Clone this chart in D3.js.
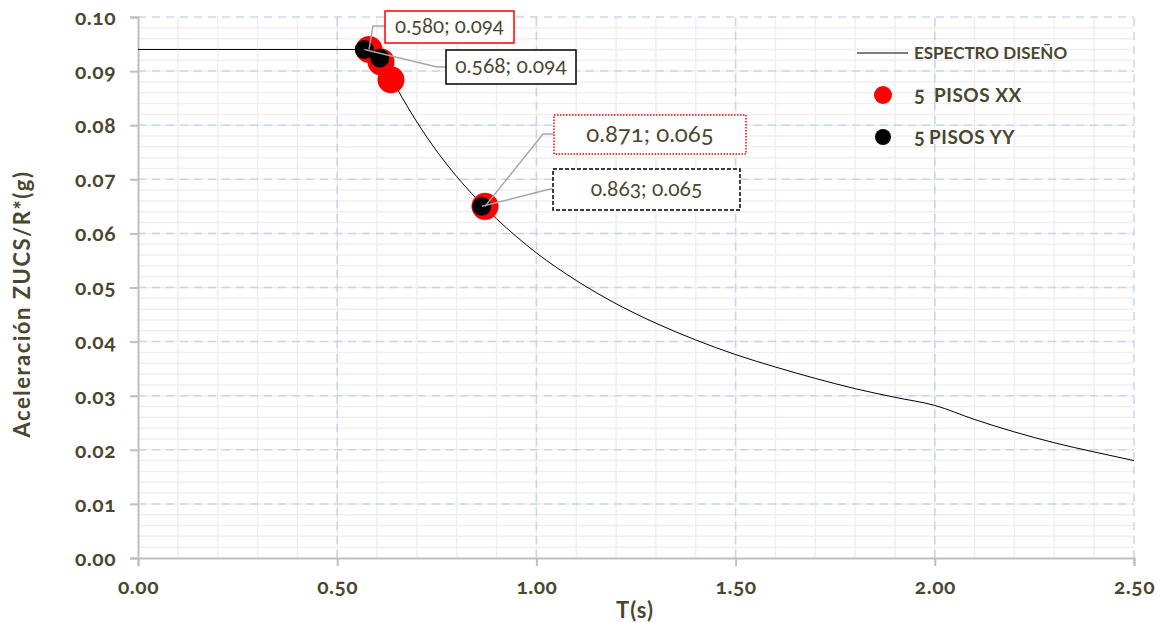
<!DOCTYPE html>
<html>
<head>
<meta charset="utf-8">
<script src="https://cdn.jsdelivr.net/npm/d3@7"></script>
<style>
    body { margin: 0; background: #fff; }
    text { font-family: Lato, 'Open Sans', sans-serif; font-feature-settings: 'onum' 1; }
</style>
</head>
<body>
<svg id="chart" width="1164" height="623"></svg>
<script>
// espectro de diseño (T, Sa)
const specT = [0, 0.1, 0.2, 0.3, 0.4, 0.5, 0.55, 0.6, 0.65, 0.7, 0.75, 0.8, 0.85, 0.9, 0.95, 1.0, 1.1, 1.2, 1.3, 1.4, 1.5, 1.6, 1.7, 1.8, 1.9, 2.0, 2.1, 2.2, 2.3, 2.4, 2.5]
const specSa = [0.094, 0.094, 0.094, 0.094, 0.094, 0.094, 0.094, 0.094, 0.0868, 0.0806, 0.0752, 0.0705, 0.0664, 0.0627, 0.0594, 0.0564, 0.0513, 0.047, 0.0434, 0.0403, 0.0376, 0.0353, 0.0332, 0.0313, 0.0297, 0.0282, 0.0256, 0.0233, 0.0213, 0.0196, 0.018]

// periodos de la estructura
const xxT = [0.58, 0.61, 0.635, 0.871]
const xxSa = [0.094, 0.0917, 0.0884, 0.065]
const yyT = [0.568, 0.607, 0.863]
const yySa = [0.094, 0.0924, 0.065]

const xTicks = [0, 0.5, 1.0, 1.5, 2.0, 2.5]
const yTicks = [0, 0.01, 0.02, 0.03, 0.04, 0.05, 0.06, 0.07, 0.08, 0.09, 0.10]

const seriesNames = ['ESPECTRO DISEÑO', 'PISOS XX', 'PISOS YY']
const pisos = 5

const ink = '#4b4630'
const svg = d3.select('#chart')

const x = d3.scaleLinear().domain([0, 2.5]).range([138, 1134])
const y = d3.scaleLinear().domain([0, 0.1]).range([558, 17])

const grid = svg.append('g')

// rejilla secundaria
grid.selectAll('.vminor')
    .data(d3.range(1, 25).map((i) => i / 10))
    .enter()
    .append('line')
    .attr('x1', (d) => x(d))
    .attr('x2', (d) => x(d))
    .attr('y1', y(0))
    .attr('y2', y(0.1))
    .attr('stroke', '#efefef')
    .attr('stroke-width', 1.5)

grid.selectAll('.hminor')
    .data(d3.range(1, 50).map((i) => i / 500))
    .enter()
    .append('line')
    .attr('x1', x(0))
    .attr('x2', x(2.5))
    .attr('y1', (d) => y(d))
    .attr('y2', (d) => y(d))
    .attr('stroke', '#efefef')
    .attr('stroke-width', 1.5)

// rejilla principal (discontinua)
grid.selectAll('.vmajor')
    .data(xTicks.slice(1))
    .enter()
    .append('line')
    .attr('x1', (d) => x(d))
    .attr('x2', (d) => x(d))
    .attr('y1', y(0))
    .attr('y2', y(0.1))
    .attr('stroke', '#c5d7ee')
    .attr('stroke-width', 1.5)
    .attr('stroke-dasharray', '8,6')

grid.selectAll('.hmajor')
    .data(yTicks.slice(1))
    .enter()
    .append('line')
    .attr('x1', x(0))
    .attr('x2', x(2.5))
    .attr('y1', (d) => y(d))
    .attr('y2', (d) => y(d))
    .attr('stroke', '#c5d7ee')
    .attr('stroke-width', 1.5)
    .attr('stroke-dasharray', '8,6')

// ejes
const xAxis = svg.append('g')
    .attr('transform', `translate(0,${y(0)})`)
    .call(d3.axisBottom(x).tickValues(xTicks).tickFormat(d3.format('.2f')).tickSize(8).tickPadding(13))
const yAxis = svg.append('g')
    .attr('transform', `translate(${x(0)},0)`)
    .call(d3.axisLeft(y).tickValues(yTicks).tickFormat(d3.format('.2f')).tickSize(8).tickPadding(14))

;[xAxis, yAxis].forEach((a) => {
    a.select('.domain').attr('stroke', '#bfbfbf').attr('stroke-width', 2)
    a.selectAll('.tick line').attr('stroke', '#bfbfbf').attr('stroke-width', 2)
    a.selectAll('.tick text')
        .attr('fill', ink)
        .attr('font-size', '21px')
        .attr('font-weight', 'bold')
        .attr('letter-spacing', '0.5px')
        .style('font-family', "Lato, 'Open Sans', sans-serif")
})
yAxis.selectAll('.tick text').attr('dy', '0.35em')

// títulos de ejes
svg.append('text')
    .text('T(s)')
    .attr('x', 635)
    .attr('y', 618)
    .attr('text-anchor', 'middle')
    .attr('font-size', '22px')
    .attr('font-weight', 'bold')
    .attr('letter-spacing', '1px')
    .attr('fill', ink)

svg.append('text')
    .text('Aceleración ZUCS/R*(g)')
    .attr('transform', 'translate(30,304) rotate(-90)')
    .attr('text-anchor', 'middle')
    .attr('font-size', '22px')
    .attr('font-weight', 'bold')
    .attr('letter-spacing', '1.5px')
    .attr('fill', ink)

// espectro
const specData = specT.map((t, i) => [t, specSa[i]])
const line = d3.line().x((d) => x(d[0])).y((d) => y(d[1])).curve(d3.curveMonotoneX)
svg.append('path')
    .datum(specData)
    .attr('d', line)
    .attr('fill', 'none')
    .attr('stroke', '#000')
    .attr('stroke-width', 1)

// puntos
const xxData = xxT.map((t, i) => [t, xxSa[i]])
const yyData = yyT.map((t, i) => [t, yySa[i]])

svg.selectAll('.xx')
    .data(xxData)
    .enter()
    .append('circle')
    .attr('cx', (d) => x(d[0]))
    .attr('cy', (d) => y(d[1]))
    .attr('r', 13.5)
    .attr('fill', '#ff0000')

svg.selectAll('.yy')
    .data(yyData)
    .enter()
    .append('circle')
    .attr('cx', (d) => x(d[0]))
    .attr('cy', (d) => y(d[1]))
    .attr('r', 9.5)
    .attr('fill', '#000')

// etiquetas de datos
const labels = [
    { p: xxData[0], box: [385, 11, 129, 32], elbow: [373, 26], color: '#ff0000', dash: null, size: 20.5 },
    { p: yyData[0], box: [446, 50, 130, 34], elbow: [437, 67], color: '#000', dash: null, size: 21 },
    { p: xxData[3], box: [554, 115, 192, 39], elbow: [543, 134], color: '#ff0000', dash: '1.5,1.5', size: 24 },
    { p: yyData[2], box: [553, 169, 187, 41], elbow: [550, 189], color: '#000', dash: '4,2', size: 21 }
]

labels.forEach((l) => {
    const px = x(l.p[0])
    const py = y(l.p[1])
    svg.append('polyline')
        .attr('points', `${px},${py} ${l.elbow[0]},${l.elbow[1]} ${l.box[0]},${l.elbow[1]}`)
        .attr('fill', 'none')
        .attr('stroke', '#a6a6a6')
        .attr('stroke-width', 1.5)
    svg.append('rect')
        .attr('x', l.box[0])
        .attr('y', l.box[1])
        .attr('width', l.box[2])
        .attr('height', l.box[3])
        .attr('fill', '#fff')
        .attr('stroke', l.color)
        .attr('stroke-width', 1.5)
        .attr('stroke-dasharray', l.dash)
    svg.append('text')
        .text(`${d3.format('.3f')(l.p[0])}; ${d3.format('.3f')(l.p[1])}`)
        .attr('x', l.box[0] + l.box[2] / 2)
        .attr('y', l.box[1] + l.box[3] / 2)
        .attr('dy', '0.3em')
        .attr('text-anchor', 'middle')
        .attr('font-size', l.size + 'px')
        .attr('fill', ink)
})

// leyenda
const legend = svg.append('g')
legend.append('line')
    .attr('x1', 857).attr('x2', 908).attr('y1', 53).attr('y2', 53)
    .attr('stroke', '#555').attr('stroke-width', 1.5)
legend.append('circle').attr('cx', 883).attr('cy', 95).attr('r', 9).attr('fill', '#ff0000')
legend.append('circle').attr('cx', 883).attr('cy', 137).attr('r', 8).attr('fill', '#000')

legend.append('text')
    .text(seriesNames[0])
    .attr('x', 914)
    .attr('y', 59)
    .attr('font-size', '17px')
    .attr('font-weight', 'bold')
    .attr('fill', ink)

const items = [{ name: seriesNames[1], y: 102, gap: 934 }, { name: seriesNames[2], y: 144, gap: 929 }]
items.forEach((it) => {
    legend.append('text')
        .text(pisos)
        .attr('x', 914)
        .attr('y', it.y)
        .attr('font-size', '20px')
        .attr('font-weight', 'bold')
        .attr('fill', ink)
    legend.append('text')
        .text(it.name)
        .attr('x', it.gap)
        .attr('y', it.y)
        .attr('font-size', '19px')
        .attr('font-weight', 'bold')
        .attr('letter-spacing', '0.5px')
        .attr('fill', ink)
})
</script>
</body>
</html>
